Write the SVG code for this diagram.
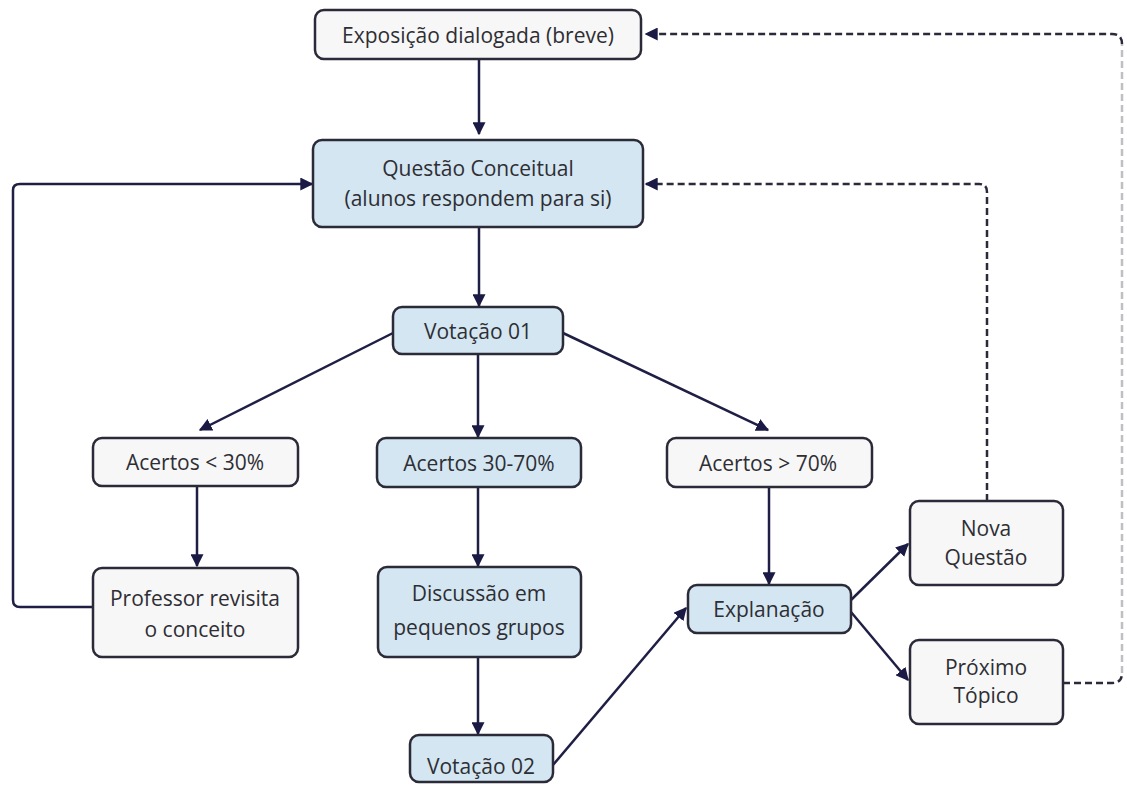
<svg xmlns="http://www.w3.org/2000/svg" width="1127" height="787" viewBox="0 0 1127 787">
<style>
.box{stroke:#2a2a38;stroke-width:2.5;}
.w{fill:#f7f7f7;}
.b{fill:#d3e6f1;}
.t{font-family:"Open Sans","Noto Sans",sans-serif;font-size:21px;fill:#2e2e34;text-anchor:middle;dominant-baseline:central;}
.c{fill:none;stroke:#1f1f45;stroke-width:2.5;}
.d{fill:none;stroke:#2a2a3a;stroke-width:2.5;stroke-dasharray:7 4;}
</style>
<defs>
<marker id="ah" markerUnits="userSpaceOnUse" markerWidth="13" markerHeight="13" viewBox="0 0 10 10" refX="9" refY="5" orient="auto">
<path d="M0,0 L10,5 L0,10 z" fill="#1a1a45"/>
</marker>
</defs>
<rect width="1127" height="787" fill="#ffffff"/>
<g id="connectors">
<path class="c" d="M479,60 V134" marker-end="url(#ah)"/>
<path class="c" d="M479,227 V306" marker-end="url(#ah)"/>
<path class="c" d="M393,333 L200,430" marker-end="url(#ah)"/>
<path class="c" d="M478,354 V437" marker-end="url(#ah)"/>
<path class="c" d="M563,333 L768,430" marker-end="url(#ah)"/>
<path class="c" d="M197,487 V566" marker-end="url(#ah)"/>
<path class="c" d="M478,488 V566" marker-end="url(#ah)"/>
<path class="c" d="M478,657 V734" marker-end="url(#ah)"/>
<path class="c" d="M769,488 V584" marker-end="url(#ah)"/>
<path class="c" d="M553,765 L686,608" marker-end="url(#ah)"/>
<path class="c" d="M851,600 L908,544" marker-end="url(#ah)"/>
<path class="c" d="M851,612 L908,680" marker-end="url(#ah)"/>
<path class="c" d="M93,607 H20 Q13,607 13,600 V190 Q13,184 20,184 H312" marker-end="url(#ah)"/>
<path class="d" d="M987,501 V192 Q987,184 979,184 H646" marker-end="url(#ah)"/>
<path class="d" d="M1063,683 H1112 Q1122,683 1122,673"/>
<path class="d" d="M1122,673 V44" stroke-opacity="0.3"/>
<path class="d" d="M1122,44 Q1122,34 1112,34 H646" marker-end="url(#ah)"/>
</g>
<g id="n1"><rect class="box w" x="315" y="10" width="326" height="49" rx="9"/><text class="t" x="478" y="35">Exposição dialogada (breve)</text></g>
<g id="n2"><rect class="box b" x="313" y="140" width="330" height="87" rx="9"/><text class="t" x="478" y="168">Questão Conceitual</text><text class="t" x="478" y="198">(alunos respondem para si)</text></g>
<g id="n3"><rect class="box b" x="393" y="307" width="170" height="47" rx="9"/><text class="t" x="478" y="331">Votação 01</text></g>
<g id="n4"><rect class="box w" x="93" y="438" width="205" height="48" rx="9"/><text class="t" x="195" y="462">Acertos &lt; 30%</text></g>
<g id="n5"><rect class="box b" x="377" y="438" width="204" height="49" rx="9"/><text class="t" x="479" y="463">Acertos 30-70%</text></g>
<g id="n6"><rect class="box w" x="667" y="438" width="205" height="49" rx="9"/><text class="t" x="768" y="463">Acertos &gt; 70%</text></g>
<g id="n7"><rect class="box w" x="93" y="568" width="205" height="89" rx="9"/><text class="t" x="195" y="598">Professor revisita</text><text class="t" x="195" y="629">o conceito</text></g>
<g id="n8"><rect class="box b" x="378" y="567" width="203" height="90" rx="9"/><text class="t" x="479" y="593">Discussão em</text><text class="t" x="479" y="627">pequenos grupos</text></g>
<g id="n9"><rect class="box b" x="410" y="735" width="143" height="47" rx="9"/><text class="t" x="481" y="766">Votação 02</text></g>
<g id="n10"><rect class="box b" x="688" y="585" width="163" height="48" rx="9"/><text class="t" x="769" y="609">Explanação</text></g>
<g id="n11"><rect class="box w" x="910" y="501" width="153" height="84" rx="9"/><text class="t" x="986" y="528">Nova</text><text class="t" x="986" y="557">Questão</text></g>
<g id="n12"><rect class="box w" x="910" y="640" width="153" height="84" rx="9"/><text class="t" x="986" y="667">Próximo</text><text class="t" x="986" y="695">Tópico</text></g>
</svg>
